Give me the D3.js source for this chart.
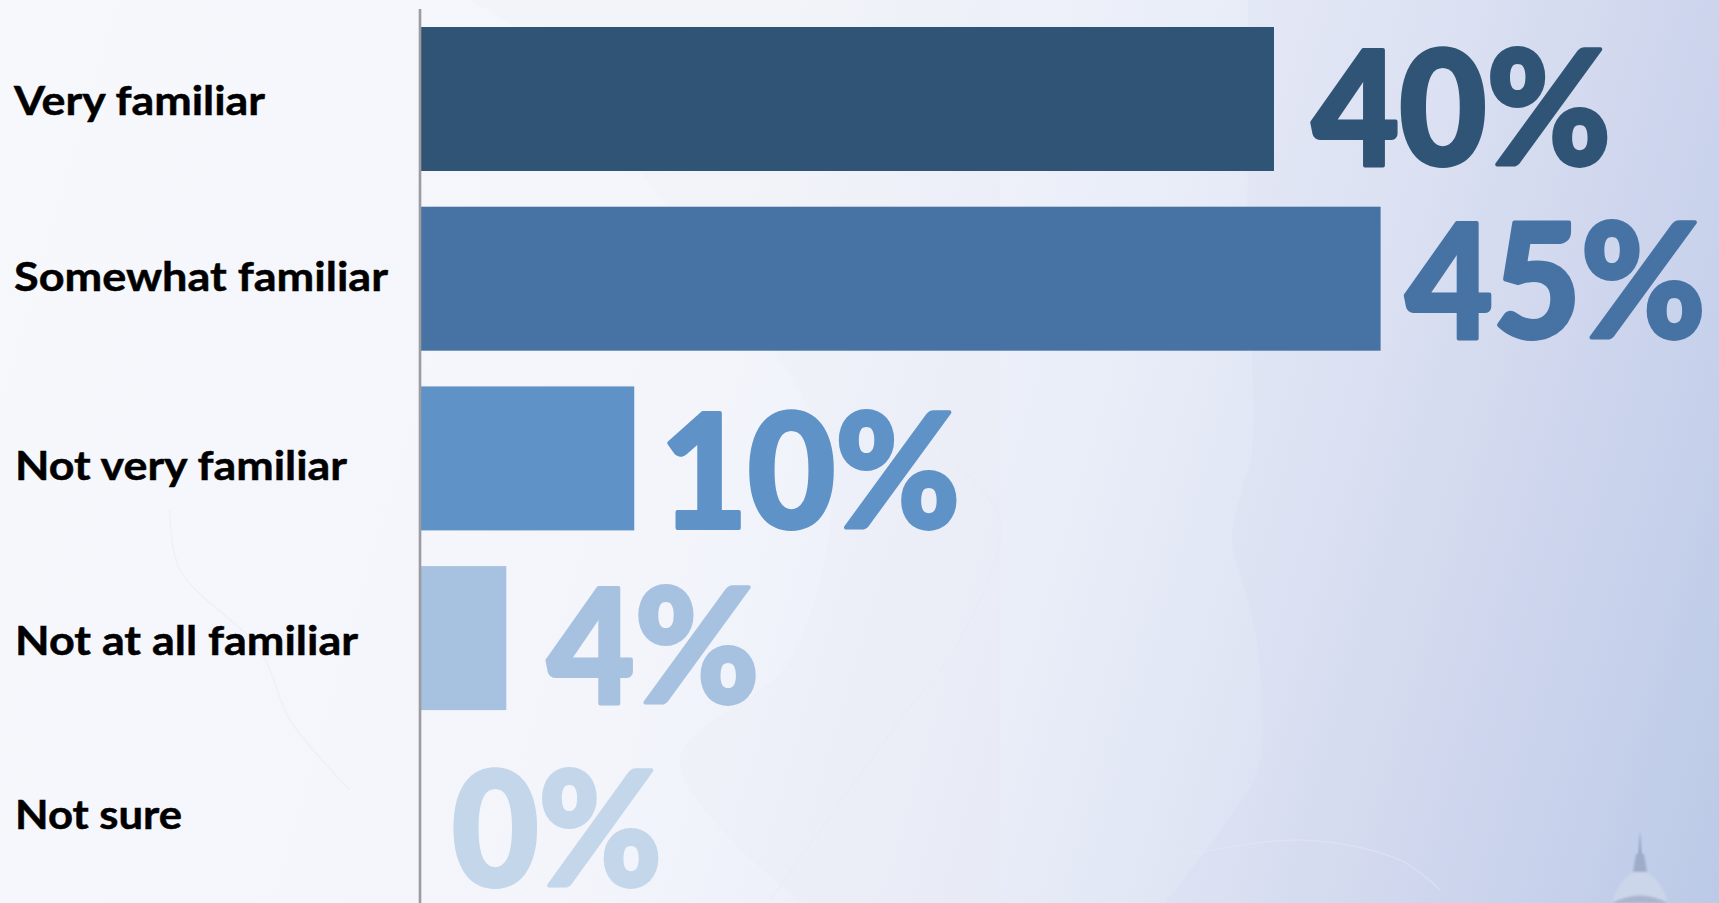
<!DOCTYPE html>
<html><head><meta charset="utf-8">
<script src="https://cdn.jsdelivr.net/npm/d3@7/dist/d3.min.js"></script>
<style>html,body{margin:0;padding:0;overflow:hidden;background:#f5f7fc}svg{display:block}</style>
</head><body><svg id="c" width="1719" height="903"></svg>
<script>
const categories = ["Very familiar","Somewhat familiar","Not very familiar","Not at all familiar","Not sure"];
const values = [40,45,10,4,0];
const valueLabels = ["40%","45%","10%","4%","0%"];
const barColors = ["#305475","#4672A4","#5F93C8","#A7C1E0","#C3D6EA"];
// layout of text
const catWidth = [251,374,332,343,167];
const catBaseline = [115,291,480,655,829];
const valWidth = [299,300,300,212,210];
const valGap = [38,25,26,41,31];
const valBaseline = [165,338,528,703,886];

const svg = d3.select("#c");
const defs = svg.append("defs");
const bg = defs.append("linearGradient").attr("id","bg").attr("gradientUnits","userSpaceOnUse")
  .attr("x1",0).attr("y1",0).attr("x2",1822).attr("y2",530);
[[0,"#f6f8fc"],[0.42,"#f3f5fb"],[0.62,"#e9edf8"],[0.74,"#dfe4f4"],[0.87,"#ced6ee"],[1,"#bacae8"]]
  .forEach(s=>bg.append("stop").attr("offset",s[0]).attr("stop-color",s[1]));
defs.append("filter").attr("id","soft").append("feGaussianBlur").attr("stdDeviation",1.2);
svg.append("rect").attr("width",1719).attr("height",903).attr("fill","url(#bg)");

// faint decorative map behind the chart
const line = d3.line().curve(d3.curveCatmullRom);
const river = [[1248,0],[1248,250],[1252,450],[1242,490],[1232,540],[1245,590],[1258,650],[1258,770],[1228,820],[1165,903]];
svg.append("path").attr("d",line(river)+"L1719,903L1719,0Z").attr("fill","#c8cfe6").attr("opacity",0.12);
const shade = [[470,0],[560,60],[640,170],[760,330],[830,470],[790,660],[680,760],[800,903]];
svg.append("path").attr("d",line(shade)+"L1000,903L1000,0Z").attr("fill","#e4e4f0").attr("opacity",0.1);
[[[170,510],[180,570],[260,650],[290,720],[350,790]],
 [[940,450],[1000,520],[960,640],[900,720],[770,900]],
 [[1160,860],[1300,840],[1400,860],[1440,890]]].forEach(p=>{
  svg.append("path").attr("d",line(p)).attr("fill","none").attr("stroke","#e6e8f3").attr("stroke-width",1.5).attr("opacity",0.45);
});

// capitol dome
const dome = svg.append("g").attr("filter","url(#soft)");
dome.append("path").attr("d","M1640 830L1641.5 855L1638.5 855Z").attr("fill","#8f9cbc");
dome.append("path").attr("d","M1633 872L1636 854L1644 854L1647 872Z").attr("fill","#9fabc8");
dome.append("path").attr("d","M1612 903Q1618 882 1633 872L1647 872Q1662 882 1668 903Z").attr("fill","#ccd6ea");
dome.append("path").attr("d","M1612 903Q1640 888 1668 903Z").attr("fill","#a9b5cf");

const x = d3.scaleLinear().domain([0,45]).range([421,1380.6]);
const y = d3.scaleBand().domain(categories).range([27,889.8]).paddingInner(0.1987).paddingOuter(0);

svg.append("g").selectAll("rect").data(values).join("rect")
  .attr("x",x(0)).attr("y",(d,i)=>y(categories[i]))
  .attr("width",d=>x(d)-x(0)).attr("height",y.bandwidth())
  .attr("fill",(d,i)=>barColors[i]);

svg.append("line").attr("x1",420).attr("x2",420).attr("y1",9).attr("y2",903)
  .attr("stroke","#9c9c9f").attr("stroke-width",2.6);

svg.append("g").selectAll("text").data(categories).join("text")
  .attr("x",(d,i)=>i<2?14:15).attr("y",(d,i)=>catBaseline[i])
  .attr("textLength",(d,i)=>catWidth[i]).attr("lengthAdjust","spacingAndGlyphs")
  .attr("font-family","Lato").attr("font-weight",700).attr("font-size",41)
  .attr("fill","#000").attr("stroke","#000").attr("stroke-width",0.5).text(d=>d);

svg.append("g").selectAll("text").data(values).join("text")
  .attr("x",(d,i)=>x(d)+valGap[i]).attr("y",(d,i)=>valBaseline[i])
  .attr("textLength",(d,i)=>valWidth[i]).attr("lengthAdjust","spacingAndGlyphs")
  .attr("font-family","Lato").attr("font-weight",900).attr("font-size",158)
  .attr("fill",(d,i)=>barColors[i]).attr("stroke",(d,i)=>barColors[i])
  .attr("stroke-width",4).attr("stroke-linejoin","round").text((d,i)=>valueLabels[i]);
</script></body></html>
